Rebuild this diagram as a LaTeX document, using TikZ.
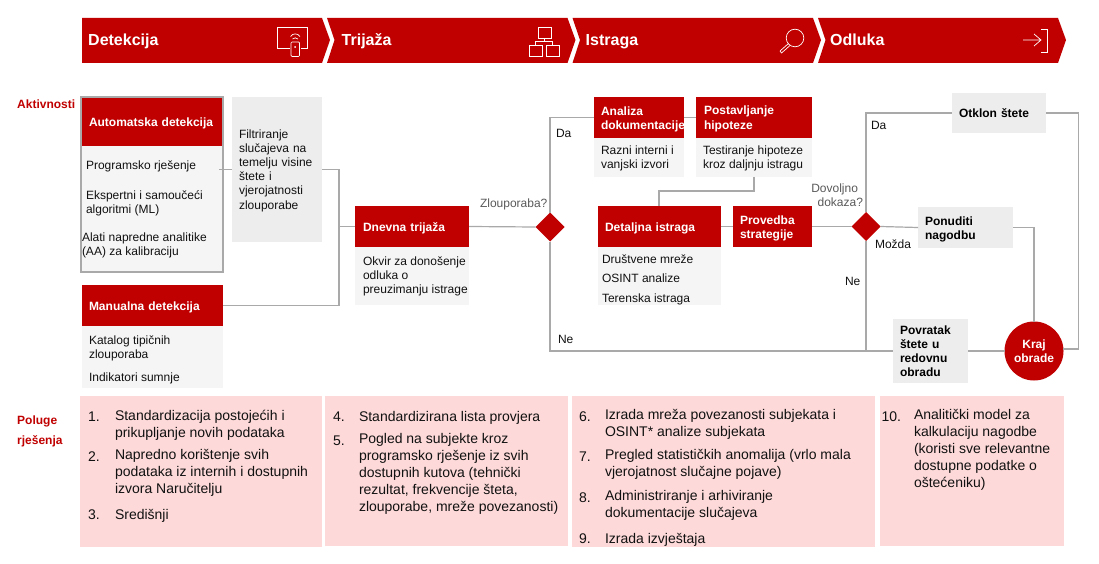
\documentclass[tikz,border=0pt]{standalone}
\usepackage{fontspec}
\setmainfont{Liberation Sans}
\usetikzlibrary{shapes.geometric}
\definecolor{dred}{HTML}{C00000}
\definecolor{lab}{HTML}{C00000}
\definecolor{panel}{HTML}{FED9D9}
\definecolor{bodyg}{HTML}{F5F5F5}
\definecolor{boxg}{HTML}{EDEDED}
\definecolor{linec}{HTML}{A9A9A9}
\definecolor{qtext}{HTML}{595959}
\definecolor{ink}{HTML}{111111}
\newcommand\mystrut{\vrule width 0pt height 11.6pt depth 2.4pt\relax}
\tikzset{
  small/.style={font=\fontsize{12}{14}\selectfont,text=ink,inner sep=0pt,outer sep=0pt,align=left,anchor=north west,yshift=4.8pt,execute at begin node=\strut},
  big/.style={font=\fontsize{14}{17}\selectfont,text=ink,inner sep=0pt,outer sep=0pt,align=left,anchor=north west,yshift=5.2pt,execute at begin node=\strut},
  title/.style={font=\fontsize{16}{19}\selectfont\bfseries,text=white,inner sep=0pt,anchor=base west},
  boxtext/.style={execute at begin node=\mystrut,execute at end node=\mystrut},
  head/.style={fill=dred,text=white,font=\fontsize{12}{14}\selectfont\bfseries,boxtext},
  plain/.style={fill=bodyg},
  grey/.style={fill=boxg,text=ink,font=\fontsize{12}{14}\selectfont,boxtext},
  greyb/.style={fill=boxg,text=black,font=\fontsize{12}{14}\selectfont\bfseries,boxtext},
  pan/.style={fill=panel},
  side/.style={font=\fontsize{12}{20}\selectfont\bfseries,text=lab,inner sep=0pt,anchor=north west,align=left},
  conn/.style={draw=linec,line width=1.2pt},
  dec/.style={diamond,fill=dred,minimum width=29pt,minimum height=29pt,inner sep=0pt,outer sep=0pt,aspect=1},
  ico/.style={draw=white,line width=0.7pt},
  qlab/.style={small,text=qtext},
}
\newcommand\BX[7][8]{%
  \pgfmathsetmacro\bw{#5-#3}\pgfmathsetmacro\bh{#6-#4}%
  \pgfmathsetmacro\bcx{(#5+#3)/2}\pgfmathsetmacro\bcy{(#6+#4)/2}%
  \pgfmathsetmacro\btw{#5-#3-2*#1}%
  \node[#2,minimum width=\bw pt,minimum height=\bh pt,inner xsep=#1pt,inner ysep=0pt,outer sep=0pt,text width=\btw pt,align=left] (#7) at (\bcx,\bcy)
}
\begin{document}
\begin{tikzpicture}[x=1pt,y=-1pt]
\useasboundingbox (0,0) rectangle (1099,564);
% chevrons
\fill[dred] (82,18) -- (322,18) -- (330,40) -- (322,63) -- (82,63) -- cycle;
\fill[dred] (327,18) -- (567.5,18) -- (575.5,40) -- (567.5,63) -- (327,63) -- (334.5,40) -- cycle;
\fill[dred] (572.5,18) -- (813,18) -- (821,40) -- (813,63) -- (572.5,63) -- (580,40) -- cycle;
\fill[dred] (818,18) -- (1058,18) -- (1066,40) -- (1058,63) -- (818,63) -- (825.5,40) -- cycle;
\node[title] (t1) at (88,46) {Detekcija};
\node[title] (t2) at (341.5,46) {Trijaža};
\node[title] (t3) at (585.5,46) {Istraga};
\node[title] (t4) at (830,46) {Odluka};
% icon 1
\draw[ico] (290,48) -- (277,48) -- (277,27) -- (307.5,27) -- (307.5,48) -- (300.5,48);
\draw[ico,rounded corners=1pt] (291,42) rectangle (299.5,56.5);
\fill[white] (295.2,47) circle (1pt);
\draw[ico] (290.5,36.5) .. controls (293,33) and (297.5,33) .. (300,36.5);
\draw[ico] (292.5,39) .. controls (294,37.5) and (296.5,37.5) .. (298,39);
% icon 2
\draw[ico] (538,27) rectangle (551,38);
\draw[ico] (529,45) rectangle (542,56);
\draw[ico] (546,45) rectangle (559,56);
\draw[ico] (544.5,38) -- (544.5,41.5) (535.5,45) -- (535.5,41.5) -- (552.5,41.5) -- (552.5,45);
% icon 3
\draw[ico] (795,38) circle (8.8);
\draw[ico,line join=round] (788.5,43.5) -- (780,51) -- (781.5,53) -- (790,45.5);
% icon 4
\draw[ico] (1023,40) -- (1041,40) (1034,34) -- (1041,40) -- (1034,46);
\draw[ico] (1041,29.5) -- (1047.5,29.5) -- (1047.5,52) -- (1041,52);
% side labels
\node[side] (akt) at (17,100) {Aktivnosti};
\node[side] (pol) at (17,416) {Poluge\\rješenja};
% Automatska
\BX{plain}{81}{146}{223}{272}{autb}{};
\BX{head}{81}{97}{223}{146}{auth}{Automatska detekcija};
\draw[linec,line width=1.6pt] (81,97) rectangle (223,272);
\node[small] (a1) at (86,165) {Programsko rješenje};
\node[small] (a2) at (86,195) {Ekspertni i samoučeći\\algoritmi (ML)};
\node[small] (a3) at (82,238) {Alati napredne analitike\\(AA) za kalibraciju};
% Filter
\BX[7]{grey}{232}{97}{322}{242}{filt}{Filtriranje\\slučajeva na\\temelju visine\\štete i\\vjerojatnosti\\zlouporabe};
% Manualna
\BX{plain}{82}{326}{223}{388}{manb}{};
\BX[7]{head}{82}{285}{223}{326}{manh}{Manualna detekcija};
\node[small] (m1) at (89,341) {Katalog tipičnih\\zlouporaba};
\node[small] (m2) at (89,376) {Indikatori sumnje};
% Dnevna
\BX{plain}{355}{247}{469}{305}{dnb}{};
\BX{head}{355}{206}{469}{247}{dnh}{Dnevna trijaža};
\node[small] (d1) at (363,262) {Okvir za donošenje\\odluka o\\preuzimanju istrage};
% Analiza
\BX{plain}{594}{138}{684}{177}{anb}{};
\BX[7]{head}{594}{97}{684}{138}{anh}{Analiza\\dokumentacije};
\node[small] (an1) at (601,151) {Razni interni i\\vanjski izvori};
% Postavljanje
\BX{plain}{696}{138}{812}{177}{pob}{};
\BX{head}{696}{97}{812}{138}{poh}{Postavljanje\\hipoteze};
\node[small] (po1) at (703,151) {Testiranje hipoteze\\kroz daljnju istragu};
% Detaljna
\BX{plain}{598}{247}{721}{305}{deb}{};
\BX[7]{head}{598}{206}{721}{247}{deh}{Detaljna istraga};
\node[small] (de1) at (602,258) {Društvene mreže};
\node[small] (de2) at (602,277) {OSINT analize};
\node[small] (de3) at (602,297) {Terenska istraga};
% Provedba
\BX[7]{head}{733}{206}{812}{247}{prh}{Provedba\\strategije};
% grey decision boxes
\BX[7]{greyb}{952}{93}{1046}{133}{otk}{Otklon štete};
\BX[7]{greyb}{918}{207}{1013}{248}{pon}{Ponuditi\\nagodbu};
\BX[7]{greyb}{893}{319}{968}{383}{pov}{Povratak\\štete u\\redovnu\\obradu};
% decisions
\node[dec] (q1) at (550,227) {};
\node[dec] (q2) at (866,226.5) {};
\node[circle,fill=dred,text=white,minimum size=59pt,inner sep=0pt,outer sep=0pt,align=center,font=\fontsize{12}{14}\selectfont\bfseries] (kraj) at (1034,351) {Kraj\\obrade};
% connectors
\coordinate (autin) at (219,169.5);
\coordinate (j1) at (339,226.5);
\draw[conn] (autin) -- (filt.west);
\draw[conn] (filt.east) -| (j1) |- (manh.east);
\draw[conn] (j1) -- (dnh.west);
\draw[conn] (dnh.east) -- (q1.west);
\draw[conn] (q1.north) |- (anh.west);
\draw[conn] (anh.east) -- (poh.west);
\coordinate (pobot) at (754,177);
\coordinate (detop) at (659,206);
\draw[conn] (pobot) -- (754,191) -| (detop);
\draw[conn] (deh.east) -- (prh.west);
\draw[conn] (prh.east) -- (q2.west);
\draw[conn] (q2.north) |- (otk.west);
\draw[conn] (otk.east) -| (1078.5,340) |- (kraj.4);
\draw[conn] (q2.east) -- (pon.west);
\draw[conn] (pon.east) -| (kraj.north);
\draw[conn] (q2.south) |- (pov.west);
\draw[conn] (q1.south) |- (pov.west);
\draw[conn] (pov.east) -- (kraj.west);
% connector labels
\node[small] (lda1) at (556,133) {Da};
\node[qlab] (lz) at (480,202.5) {Zlouporaba?};
\node[small] (lne1) at (558,338) {Ne};
\node[small] (lda2) at (871,125) {Da};
\node[qlab,align=right,anchor=north east] (ldk) at (863,189) {Dovoljno\hspace*{5pt}\\dokaza?};
\node[small] (lmo) at (875,243) {Možda};
\node[small] (lne2) at (845,280) {Ne};
% panels
\BX{pan}{80}{396}{322}{547}{p1}{};
\BX{pan}{325}{396}{568}{546}{p2}{};
\BX{pan}{571.5}{396}{874.5}{546.5}{p3}{};
\BX{pan}{880}{396}{1064}{546}{p4}{};
% panel 1
\node[big] (n1) at (88,415) {1.};
\node[big] (x1) at (115,415) {Standardizacija postojećih i\\prikupljanje novih podataka};
\node[big] (n2) at (88,455) {2.};
\node[big] (x2) at (115,455) {Napredno korištenje svih\\podataka iz internih i dostupnih\\izvora Naručitelju};
\node[big] (n3) at (88,513) {3.};
\node[big] (x3) at (115,513) {Središnji};
% panel 2
\node[big] (n4) at (333,415) {4.};
\node[big] (x4) at (359,415) {Standardizirana lista provjera};
\node[big] (n5) at (333,439) {5.};
\node[big] (x5) at (359,439) {Pogled na subjekte kroz\\programsko rješenje iz svih\\dostupnih kutova (tehnički\\rezultat, frekvencije šteta,\\zlouporabe, mreže povezanosti)};
% panel 3
\node[big] (n6) at (579,415) {6.};
\node[big] (x6) at (605,415) {Izrada mreža povezanosti subjekata i\\OSINT* analize subjekata};
\node[big] (n7) at (579,455) {7.};
\node[big] (x7) at (605,455) {Pregled statističkih anomalija (vrlo mala\\vjerojatnost slučajne pojave)};
\node[big] (n8) at (579,496) {8.};
\node[big] (x8) at (605,496) {Administriranje i arhiviranje\\dokumentacije slučajeva};
\node[big] (n9) at (579,537) {9.};
\node[big] (x9) at (605,537) {Izrada izvještaja};
% panel 4
\node[big] (n10) at (881.5,415) {10.};
\node[big] (x10) at (914,415) {Analitički model za\\kalkulaciju nagodbe\\(koristi sve relevantne\\dostupne podatke o\\oštećeniku)};
\end{tikzpicture}
\end{document}
